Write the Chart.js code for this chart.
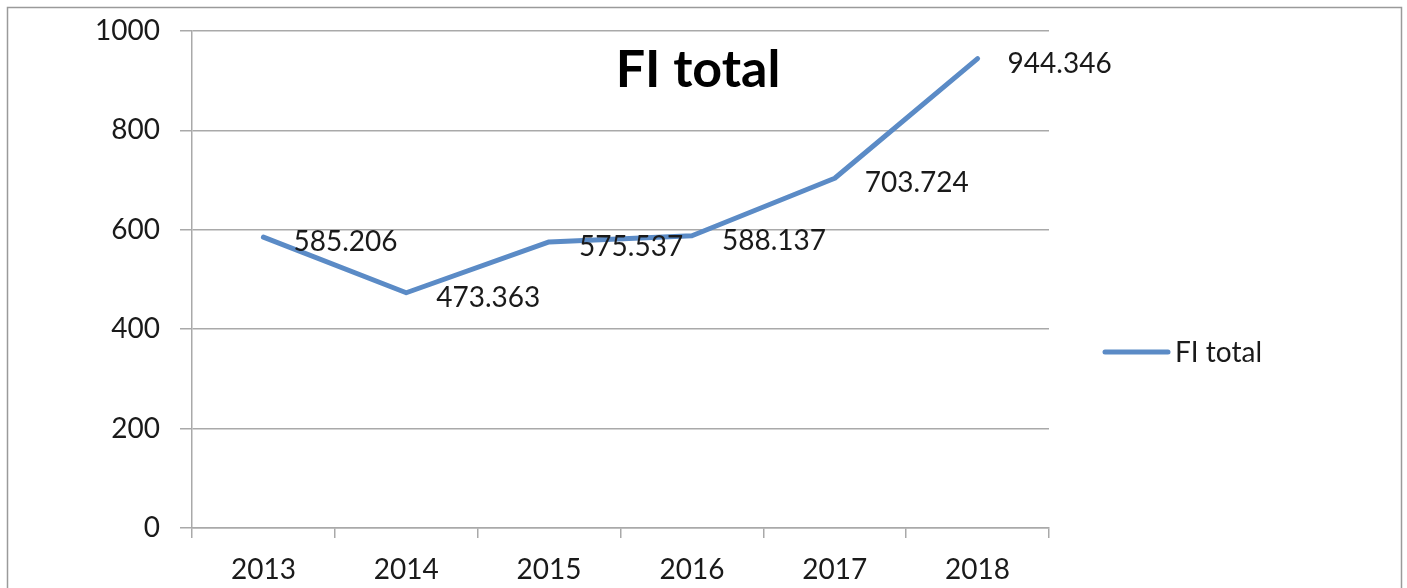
<!DOCTYPE html>
<html>
<head>
<meta charset="utf-8">
<script src="https://cdn.jsdelivr.net/npm/chart.js@4/dist/chart.umd.min.js"></script>
<style>
html,body{margin:0;padding:0;background:#fff;overflow:hidden;}
#wrap{position:absolute;left:0;top:0;width:1407px;height:588px;}
</style>
</head>
<body>
<div id="wrap"><canvas id="c" width="1407" height="588"></canvas></div>
<script>
const categories = ['2013', '2014', '2015', '2016', '2017', '2018'];
const seriesName = 'FI total';
const seriesValues = [585.206, 473.363, 575.537, 588.137, 703.724, 944.346];
const chartTitle = 'FI total';
const yTicks = [0, 200, 400, 600, 800, 1000];

const FONT = 'Lato, "Open Sans", sans-serif';
const LINE_COLOR = '#5b8bc6';
const GRID_COLOR = '#a9a9a9';

const decor = {
  id: 'decor',
  beforeDraw(chart) {
    const ctx = chart.ctx;
    ctx.save();
    ctx.fillStyle = '#fff';
    ctx.fillRect(0, 0, chart.width, chart.height);
    ctx.strokeStyle = '#9a9a9a';
    ctx.lineWidth = 1.5;
    ctx.strokeRect(7.5, 7.5, 1394, 620);
    ctx.restore();
  },
  afterDatasetsDraw(chart) {
    const ctx = chart.ctx;
    const meta = chart.getDatasetMeta(0);
    ctx.save();
    ctx.fillStyle = '#1a1a1a';
    ctx.font = '28px ' + FONT;
    ctx.textAlign = 'left';
    ctx.textBaseline = 'middle';
    meta.data.forEach((pt, i) => {
      ctx.fillText(String(chart.data.datasets[0].data[i]), pt.x + 30, pt.y + 5);
    });
    // title inside plot area
    ctx.font = 'bold 52px ' + FONT;
    ctx.textAlign = 'center';
    ctx.fillStyle = '#000';
    ctx.fillText(chartTitle, 698, 70);
    // legend
    const ds = chart.data.datasets[0];
    const ly = 352;
    ctx.strokeStyle = ds.borderColor;
    ctx.lineWidth = 5;
    ctx.lineCap = 'round';
    ctx.beginPath();
    ctx.moveTo(1105, ly);
    ctx.lineTo(1168, ly);
    ctx.stroke();
    ctx.fillStyle = '#1a1a1a';
    ctx.font = '28px ' + FONT;
    ctx.textAlign = 'left';
    ctx.fillText(ds.label, 1175, ly + 1);
    ctx.restore();
  }
};

new Chart(document.getElementById('c'), {
  type: 'line',
  data: {
    labels: categories,
    datasets: [{
      label: seriesName,
      data: seriesValues,
      borderColor: LINE_COLOR,
      backgroundColor: LINE_COLOR,
      borderWidth: 5,
      borderJoinStyle: 'round',
      borderCapStyle: 'round',
      pointRadius: 0,
      tension: 0,
      fill: false
    }]
  },
  options: {
    responsive: false,
    animation: false,
    devicePixelRatio: 1,
    layout: { padding: { top: 31, right: 358, left: 0, bottom: 0 } },
    plugins: {
      legend: { display: false },
      title: { display: false },
      tooltip: { enabled: false }
    },
    scales: {
      x: {
        type: 'category',
        offset: true,
        grid: {
          offset: true,
          drawOnChartArea: false,
          drawTicks: true,
          tickLength: 10,
          color: GRID_COLOR,
          lineWidth: 1.5
        },
        border: { color: GRID_COLOR, width: 1.5 },
        ticks: {
          color: '#1a1a1a',
          font: { family: FONT, size: 28 },
          padding: 15,
          maxRotation: 0
        },
        afterFit(scale) { scale.height = 60; scale.paddingLeft = 0; scale.paddingRight = 0; }
      },
      y: {
        min: 0,
        max: 1000,
        afterBuildTicks(scale) { scale.ticks = yTicks.map(v => ({ value: v })); },
        grid: {
          drawOnChartArea: true,
          drawTicks: true,
          tickLength: 12,
          color: GRID_COLOR,
          lineWidth: 1.5
        },
        border: { color: GRID_COLOR, width: 1.5 },
        ticks: {
          color: '#1a1a1a',
          font: { family: FONT, size: 28 },
          padding: 20,
          callback: (v) => String(v)
        },
        afterFit(scale) { scale.width = 192; scale.paddingTop = 0; scale.paddingBottom = 0; }
      }
    }
  },
  plugins: [decor]
});
</script>
</body>
</html>
